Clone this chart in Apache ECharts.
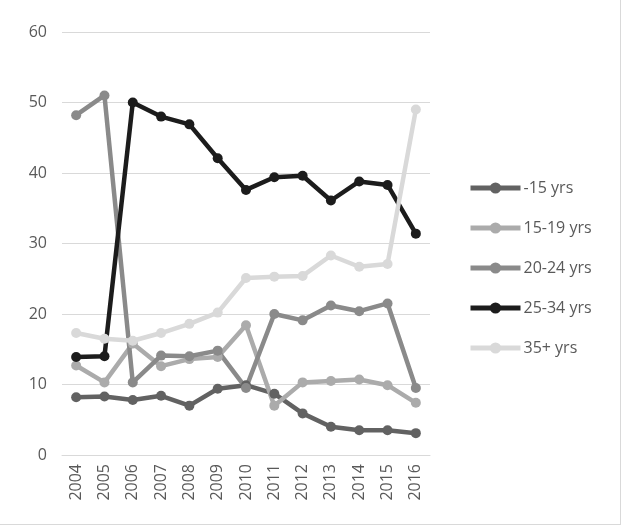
<!DOCTYPE html>
<html>
<head>
<meta charset="utf-8">
<script src="https://cdn.jsdelivr.net/npm/echarts@6/dist/echarts.min.js"></script>
<style>
  html, body { margin: 0; padding: 0; background: #fff; }
  #chart { width: 620px; height: 524px; border-right: 1px solid #d9d9d9; border-bottom: 1px solid #d9d9d9; }
</style>
</head>
<body>
<div id="chart"></div>
<script>
// chart data
const years = ['2004', '2005', '2006', '2007', '2008', '2009', '2010', '2011', '2012', '2013', '2014', '2015', '2016']
const under15 = [8.2, 8.3, 7.8, 8.4, 7.0, 9.4, 9.9, 8.7, 5.9, 4.0, 3.5, 3.5, 3.1]
const age15to19 = [12.7, 10.3, 15.8, 12.6, 13.6, 13.9, 18.4, 7.0, 10.3, 10.5, 10.7, 9.9, 7.4]
const age20to24 = [48.2, 51.0, 10.3, 14.1, 14.0, 14.8, 9.5, 20.0, 19.1, 21.2, 20.4, 21.5, 9.5]
const age25to34 = [13.9, 14.0, 50.0, 48.0, 46.9, 42.1, 37.6, 39.4, 39.6, 36.1, 38.8, 38.3, 31.4]
const age35plus = [17.3, 16.5, 16.2, 17.3, 18.6, 20.2, 25.1, 25.3, 25.4, 28.3, 26.7, 27.1, 49.0]
const seriesNames = ['-15 yrs', '15-19 yrs', '20-24 yrs', '25-34 yrs', '35+ yrs']
const colors = ['#626262', '#ababab', '#8a8a8a', '#1c1c1c', '#d9d9d9']

const myChart = echarts.init(document.getElementById('chart'))

function lineSeries (name, data, color) {
  return {
    name: name,
    type: 'line',
    data: data,
    symbol: 'circle',
    symbolSize: 10,
    lineStyle: { color: color, width: 4.5 },
    itemStyle: { color: color },
    emphasis: { disabled: true }
  }
}

const option = {
  animation: false,
  color: colors,
  textStyle: { fontFamily: 'Open Sans, Liberation Sans, sans-serif' },
  grid: {
    left: 62,
    right: 190,
    top: 32,
    bottom: 69
  },
  legend: {
    orient: 'vertical',
    left: 463,
    top: 175,
    itemWidth: 50,
    itemHeight: 14,
    itemGap: 24,
    lineStyle: { width: 5 },
    textStyle: { color: '#595959', fontSize: 16, padding: [0, 0, 0, -2] },
    data: seriesNames
  },
  xAxis: {
    type: 'category',
    data: years,
    boundaryGap: true,
    axisLine: { lineStyle: { color: '#d9d9d9' } },
    axisTick: { show: false },
    axisLabel: { rotate: 90, color: '#595959', fontSize: 16, margin: 9 }
  },
  yAxis: {
    type: 'value',
    min: 0,
    max: 60,
    interval: 10,
    axisLine: { show: false },
    axisTick: { show: false },
    splitLine: { lineStyle: { color: '#d9d9d9' } },
    axisLabel: { color: '#595959', fontSize: 16, margin: 15 }
  },
  series: [
    lineSeries(seriesNames[0], under15, colors[0]),
    lineSeries(seriesNames[1], age15to19, colors[1]),
    lineSeries(seriesNames[2], age20to24, colors[2]),
    lineSeries(seriesNames[3], age25to34, colors[3]),
    lineSeries(seriesNames[4], age35plus, colors[4])
  ]
}
myChart.setOption(option)
</script>
</body>
</html>
